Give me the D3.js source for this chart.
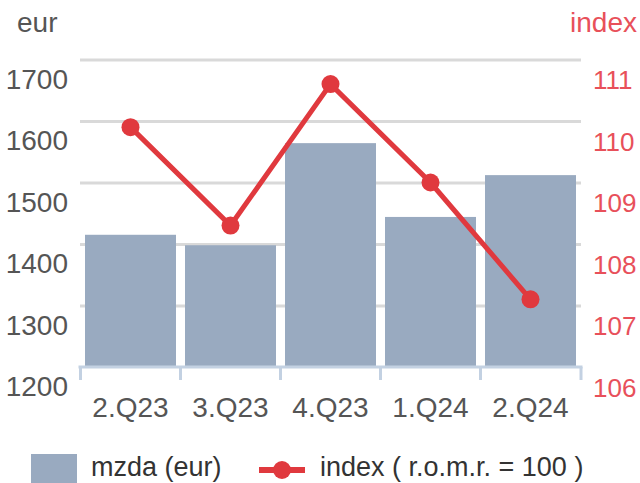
<!DOCTYPE html>
<html>
<head>
<meta charset="utf-8">
<script src="https://cdn.jsdelivr.net/npm/d3@7"></script>
<style>
  body { margin: 0; background: #fff; }
  svg { font-family: "Liberation Sans", Arial, sans-serif; }
</style>
</head>
<body>
<div id="chart"></div>
<script>
// chart data
const categories = ["2.Q23", "3.Q23", "4.Q23", "1.Q24", "2.Q24"];
const wages = [1415, 1398, 1564, 1444, 1512];
const indexValues = [109.9, 108.3, 110.6, 109.0, 107.1];
const leftTicks = [1200, 1300, 1400, 1500, 1600, 1700];
const rightTicks = [106, 107, 108, 109, 110, 111];

const width = 640, height = 483;
const plotLeft = 80, plotRight = 581, plotTop = 59.5, plotBottom = 367;

const svg = d3.select("#chart").append("svg")
    .attr("width", width)
    .attr("height", height);

const x = d3.scaleBand().domain(categories).range([plotLeft, plotRight]).paddingInner(0.09).paddingOuter(0.05);
const y = d3.scaleLinear().domain([1200, 1700]).range([plotBottom, plotTop]);
const y2 = d3.scaleLinear().domain([106, 111]).range([plotBottom, plotTop]);

// grid lines
svg.append("g")
    .attr("transform", "translate(" + plotLeft + ",0)")
    .call(d3.axisLeft(y).tickValues(leftTicks.slice(1)).tickSize(-(plotRight - plotLeft)).tickFormat(""))
    .call(g => g.select(".domain").remove())
    .call(g => g.selectAll("line").attr("stroke", "#d9d9d9").attr("stroke-width", 3));

// bars
svg.selectAll(".bar")
    .data(wages)
    .enter()
    .append("rect")
    .attr("class", "bar")
    .attr("x", (d, i) => x(categories[i]))
    .attr("width", x.bandwidth())
    .attr("y", d => y(d))
    .attr("height", d => y(1200) - y(d))
    .attr("fill", "#99aac0");

// x axis
svg.append("g")
    .attr("transform", "translate(0," + plotBottom + ")")
    .call(d3.axisBottom(x).tickSize(0).tickPadding(0))
    .call(g => g.select(".domain").remove())
    .call(g => g.selectAll("text")
        .attr("y", 50)
        .attr("dy", 0)
        .attr("font-size", 28)
        .attr("font-family", "Liberation Sans, Arial, sans-serif")
        .attr("fill", "#555"));

const xBounds = categories.map(c => x(c) - x.step() * x.paddingInner() / 2).concat([plotRight]);
svg.append("line")
    .attr("x1", plotLeft - 1.5).attr("x2", plotRight + 1.5)
    .attr("y1", plotBottom).attr("y2", plotBottom)
    .attr("stroke", "#c3d1e2").attr("stroke-width", 3);
svg.selectAll(".xtick")
    .data(xBounds)
    .enter()
    .append("line")
    .attr("class", "xtick")
    .attr("x1", d => d).attr("x2", d => d)
    .attr("y1", plotBottom).attr("y2", plotBottom + 13)
    .attr("stroke", "#c3d1e2").attr("stroke-width", 3);

// left axis labels
svg.append("g")
    .attr("transform", "translate(" + plotLeft + ",0)")
    .call(d3.axisLeft(y).tickValues(leftTicks).tickFormat(d3.format("d")).tickSize(0).tickPadding(12))
    .call(g => g.select(".domain").remove())
    .call(g => g.selectAll("text")
        .attr("y", 20)
        .attr("font-size", 28)
        .attr("font-family", "Liberation Sans, Arial, sans-serif")
        .attr("fill", "#555"));

// right axis labels
svg.append("g")
    .attr("transform", "translate(" + plotRight + ",0)")
    .call(d3.axisRight(y2).tickValues(rightTicks).tickFormat(d3.format("d")).tickSize(0).tickPadding(12))
    .call(g => g.select(".domain").remove())
    .call(g => g.selectAll("text")
        .attr("y", 21)
        .attr("font-size", 26)
        .attr("font-family", "Liberation Sans, Arial, sans-serif")
        .attr("fill", "#e8505a"));

// axis titles
svg.append("text").attr("x", 17).attr("y", 32)
    .attr("font-size", 28).attr("fill", "#555").text("eur");
svg.append("text").attr("x", 637).attr("y", 32).attr("text-anchor", "end")
    .attr("font-size", 28).attr("fill", "#e8505a").text("index");

// index line
const line = d3.line()
    .x((d, i) => x(categories[i]) + x.bandwidth() / 2)
    .y(d => y2(d));

svg.append("path")
    .datum(indexValues)
    .attr("d", line)
    .attr("fill", "none")
    .attr("stroke", "#e0393e")
    .attr("stroke-width", 5);

svg.selectAll(".dot")
    .data(indexValues)
    .enter()
    .append("circle")
    .attr("class", "dot")
    .attr("cx", (d, i) => x(categories[i]) + x.bandwidth() / 2)
    .attr("cy", d => y2(d))
    .attr("r", 9)
    .attr("fill", "#e0393e");

// legend
const legend = svg.append("g");
legend.append("rect").attr("x", 31).attr("y", 454).attr("width", 46).attr("height", 32).attr("fill", "#99aac0");
legend.append("text").attr("x", 91).attr("y", 476).attr("font-size", 27).attr("fill", "#333").text("mzda (eur)");
legend.append("line").attr("x1", 259).attr("x2", 305).attr("y1", 470).attr("y2", 470)
    .attr("stroke", "#e0393e").attr("stroke-width", 6);
legend.append("circle").attr("cx", 282).attr("cy", 470).attr("r", 9).attr("fill", "#e0393e");
legend.append("text").attr("x", 320).attr("y", 476).attr("font-size", 27).attr("fill", "#333").text("index ( r.o.m.r. = 100 )");
</script>
</body>
</html>
